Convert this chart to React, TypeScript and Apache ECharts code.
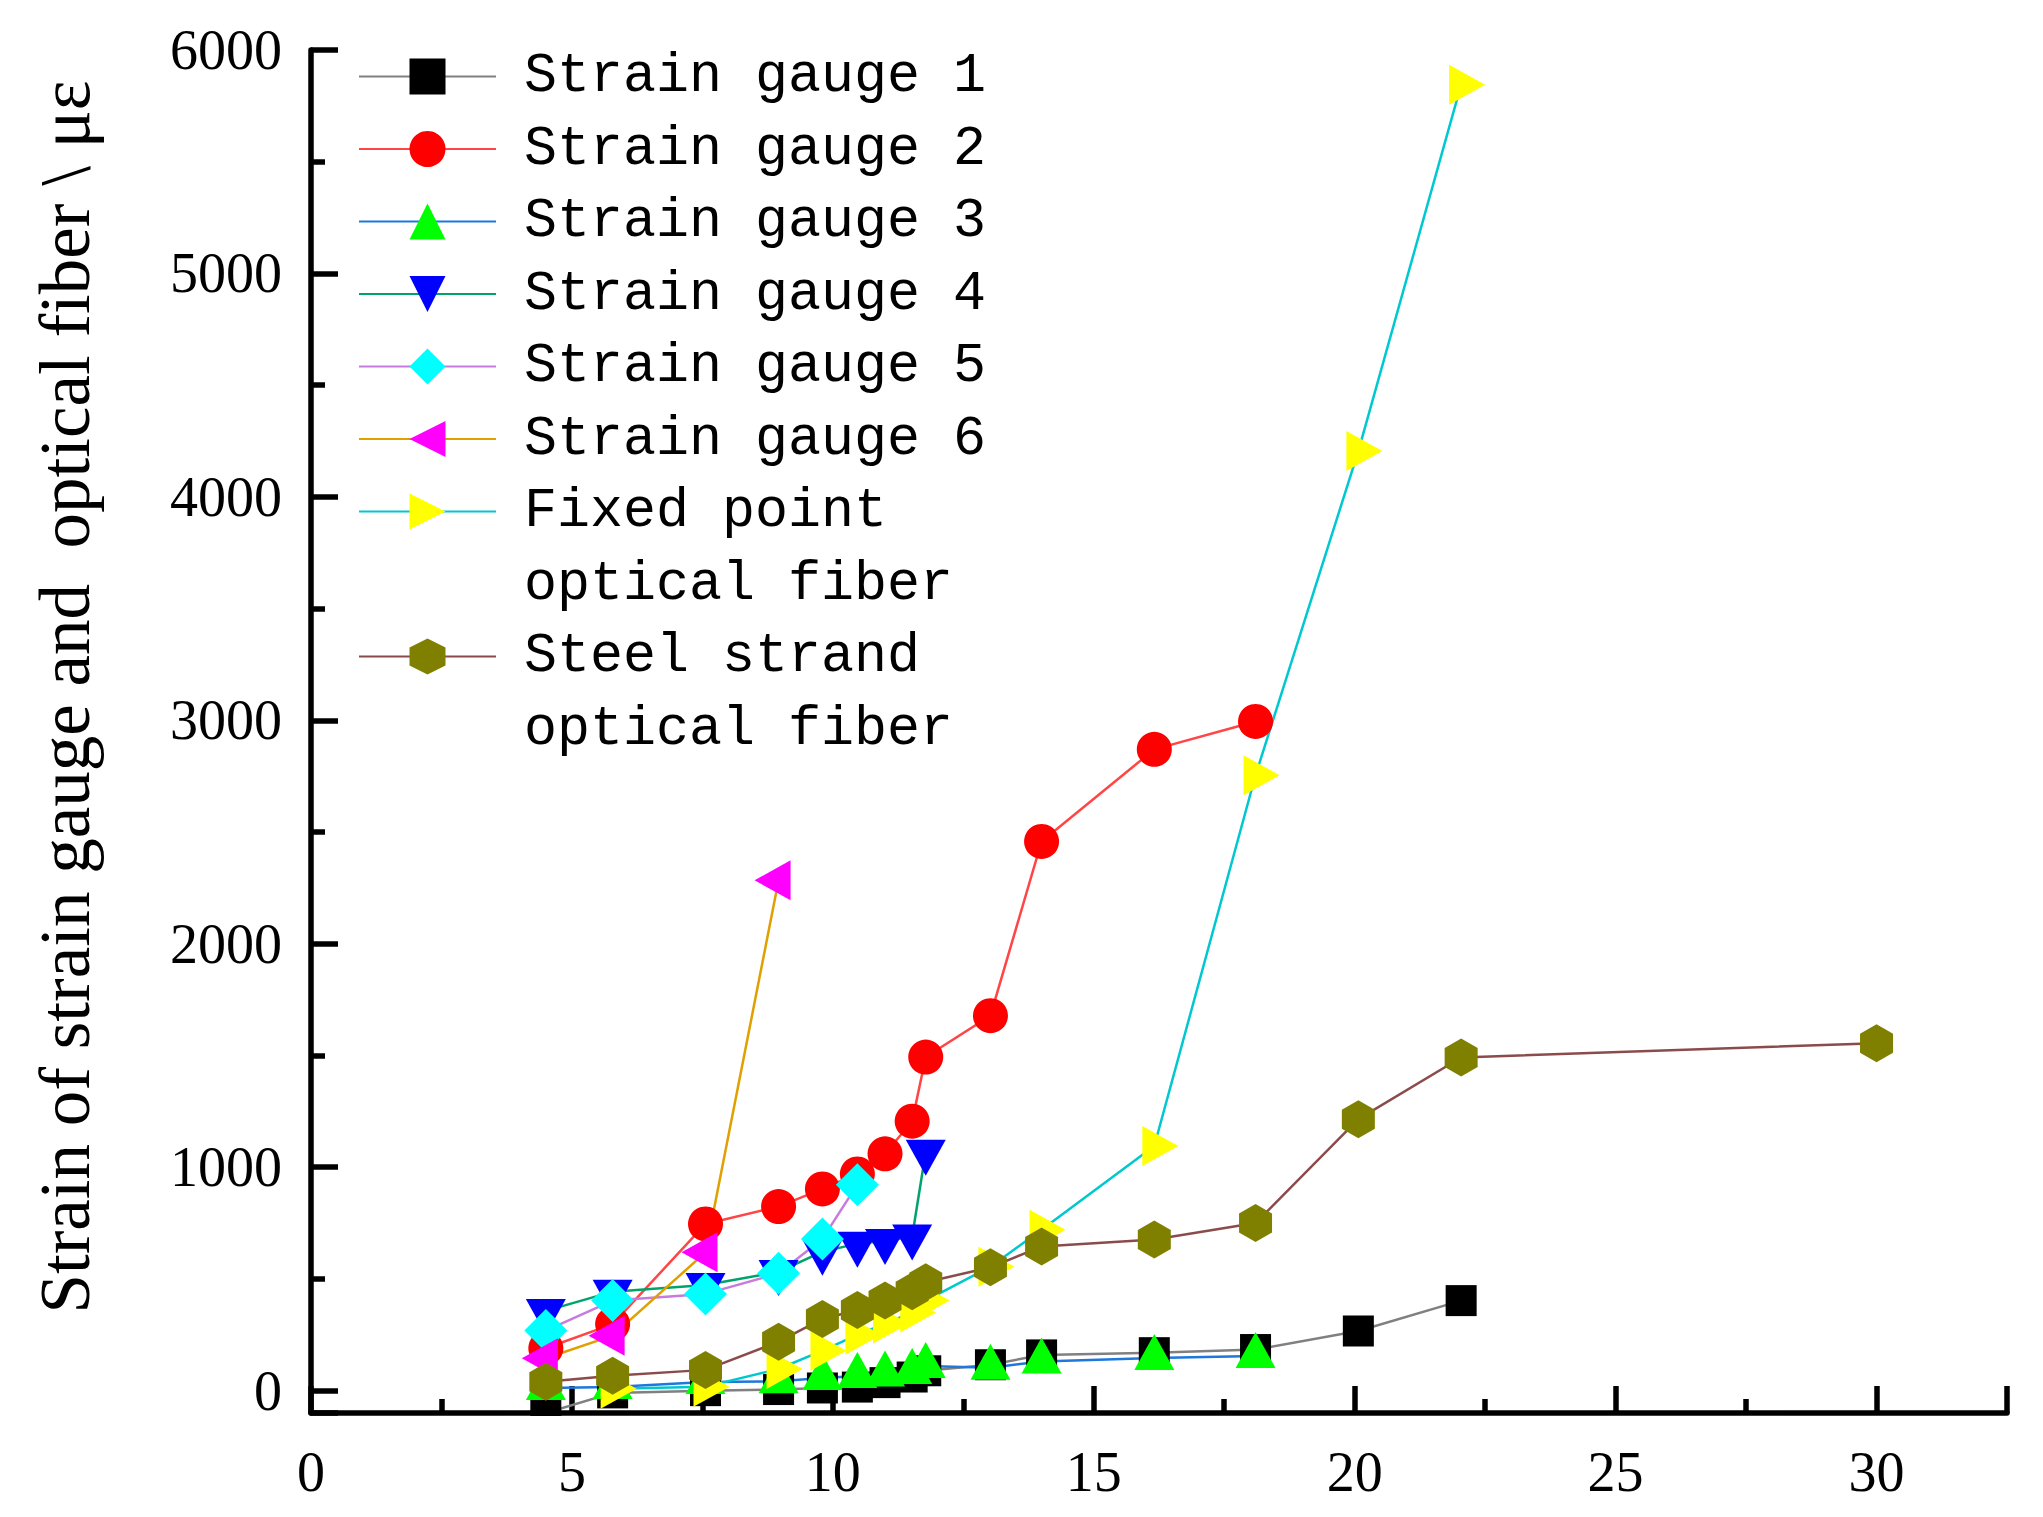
import React, { useEffect, useRef } from "react";
import * as echarts from "echarts";

// Load steps (x axis values)
const loadSteps = [4.5, 5.78, 7.56, 8.96, 9.8, 10.47, 11.0, 11.52, 11.78, 13.02, 14.0, 16.16, 18.1, 20.07, 22.04, 30.0];

// Strain values (με) per load step; null = no measurement
const gauge1 = [-100, -10, 0, 5, 12, 16, 36, 61, 89, 116, 160, 170, 184, 267, 403, null];
const gauge2 = [190, 298, 746, 824, 903, 970, 1060, 1206, 1493, 1678, 2458, 2870, 2995, null, null, null];
const gauge3 = [12, 16, 39, 42, 57, 66, 72, 84, 110, 103, 131, 146, 155, null, null, null];
const gauge4 = [357, 443, 473, 531, 622, 658, 670, 690, 1069, null, null, null, null, null, null, null];
const gauge5 = [269, 403, 433, 525, 679, 922, null, null, null, null, null, null, null, null, null, null];
const gauge6 = [145, 246, 619, 2284, null, null, null, null, null, null, null, null, null, null, null, null];
const fixedPointFiber = [null, 8, 18, 97, 179, 250, 300, 350, 403, 555, 720, 1095, 2754, 4205, 5845, null];
const steelStrandFiber = [40, 67, 93, 219, 321, 361, 403, 445, 485, 552, 645, 676, 750, 1215, 1491, 1555];

const seriesNames = [
  "Strain gauge 1",
  "Strain gauge 2",
  "Strain gauge 3",
  "Strain gauge 4",
  "Strain gauge 5",
  "Strain gauge 6",
  "Fixed point\noptical fiber",
  "Steel strand\noptical fiber",
];
const seriesValues = [gauge1, gauge2, gauge3, gauge4, gauge5, gauge6, fixedPointFiber, steelStrandFiber];

const yAxisTitle = "Strain of strain gauge and  optical fiber \\ με";

// Styling
const lineColors = ["#808080", "#FF4545", "#1E78DC", "#00A36C", "#C77CDD", "#E0A000", "#00C8D0", "#8C4B4B"];
const markerColors = ["#000000", "#FF0000", "#00FF00", "#0000FF", "#00FFFF", "#FF00FF", "#FFFF00", "#808000"];
const markerSymbols = [
  "rect",
  "circle",
  "path://M5,0L10,10L0,10Z",
  "path://M0,0L10,0L5,10Z",
  "diamond",
  "path://M10,0L10,10L0,5Z",
  "path://M0,0L10,5L0,10Z",
  "path://M0,-1L0.866,-0.5L0.866,0.5L0,1L-0.866,0.5L-0.866,-0.5Z",
];
const markerSizes: any[] = [31, 35, [40, 36], [40, 36], 43, [36, 40], [36, 40], [33, 38]];
const markerOffsets: any[] = [[0, 0], [0, 0], [0, -6], [0, 6], [0, 0], [-6, 0], [6, 0], [0, 0]];
const legendRows = [0, 1, 2, 3, 4, 5, 6, 8];

function toPairs(values: (number | null)[]) {
  const out: number[][] = [];
  values.forEach((v, i) => {
    if (v !== null && v !== undefined) out.push([loadSteps[i], v]);
  });
  return out;
}

export default function App() {
  const ref = useRef<HTMLDivElement>(null);

  useEffect(() => {
    if (!ref.current) return;
    const chart = echarts.init(ref.current, null, { renderer: "svg" });

    const rowPitch = 72.5;
    const firstRow = 76.5;
    const legendFont = { fontFamily: "Liberation Mono", fontSize: 55, color: "#000" };
    const legends = seriesNames.map((name, i) => {
      const c = firstRow + rowPitch * legendRows[i];
      return {
        show: true,
        data: [{ name }],
        orient: "vertical",
        left: 358,
        top: c - rowPitch / 2,
        padding: 0,
        itemWidth: 137,
        itemHeight: 45,
        selectedMode: false,
        formatter: (n: string) => {
          const parts = n.split("\n");
          if (parts.length < 2) return "{a|" + n + "}";
          return "{a|" + parts[0] + "}\n{b|" + parts[1] + "}";
        },
        textStyle: {
          ...legendFont,
          lineHeight: rowPitch,
          padding: [0, 0, 0, 23],
          rich: {
            a: { ...legendFont, lineHeight: rowPitch },
            b: { ...legendFont, lineHeight: 0, height: rowPitch, verticalAlign: "top" },
          },
        },
      };
    });

    const tickStyle = { color: "#000", width: 5.5 };
    const plain = (v: number) => String(v);

    chart.setOption({
      animation: false,
      backgroundColor: "#fff",
      grid: { left: 311, right: 36, top: 50, bottom: 104 },
      legend: legends,
      graphic: [
        {
          type: "rect",
          silent: true,
          z: 10,
          zlevel: 0,
          left: 0,
          top: 1416,
          shape: { width: 2043, height: 27 },
          style: { fill: "#ffffff" },
        },
      ],
      xAxis: {
        type: "value",
        min: 0,
        max: 32.5,
        interval: 5,
        z: 3,
        axisLine: { show: true, onZero: false, lineStyle: tickStyle },
        axisTick: { show: true, inside: true, length: 27, lineStyle: tickStyle },
        minorTick: { show: true, splitNumber: 2, length: 14, lineStyle: tickStyle },
        splitLine: { show: false },
        axisLabel: {
          fontFamily: "Liberation Serif",
          fontSize: 56,
          color: "#000",
          margin: 31,
          showMaxLabel: false,
          formatter: plain,
        },
      },
      yAxis: {
        type: "value",
        min: -100,
        max: 6000,
        z: 3,
        axisLine: { show: true, onZero: false, lineStyle: tickStyle },
        axisTick: { show: true, inside: true, length: 27, lineStyle: tickStyle },
        minorTick: { show: true, splitNumber: 2, length: 14, lineStyle: tickStyle },
        splitLine: { show: false },
        axisLabel: {
          fontFamily: "Liberation Serif",
          fontSize: 56,
          color: "#000",
          margin: 29,
          showMinLabel: false,
          formatter: plain,
        },
        name: yAxisTitle,
        nameLocation: "middle",
        nameRotate: 90,
        nameGap: 211,
        nameTextStyle: {
          fontFamily: "Liberation Serif",
          fontSize: 71,
          color: "#000",
          padding: [0, 0, 0, 69],
        },
      },
      series: seriesNames.map((name, i) => ({
        type: "line",
        name,
        data: toPairs(seriesValues[i]),
        symbol: markerSymbols[i],
        symbolSize: markerSizes[i],
        symbolOffset: markerOffsets[i],
        showSymbol: true,
        clip: false,
        itemStyle: { color: markerColors[i] },
        lineStyle: { color: lineColors[i], width: 2.5 },
        emphasis: { disabled: true },
      })),
    });

    return () => chart.dispose();
  }, []);

  return (
    <div
      ref={ref}
      style={{ position: "absolute", left: 0, top: 0, width: 2043, height: 1517 }}
    />
  );
}
